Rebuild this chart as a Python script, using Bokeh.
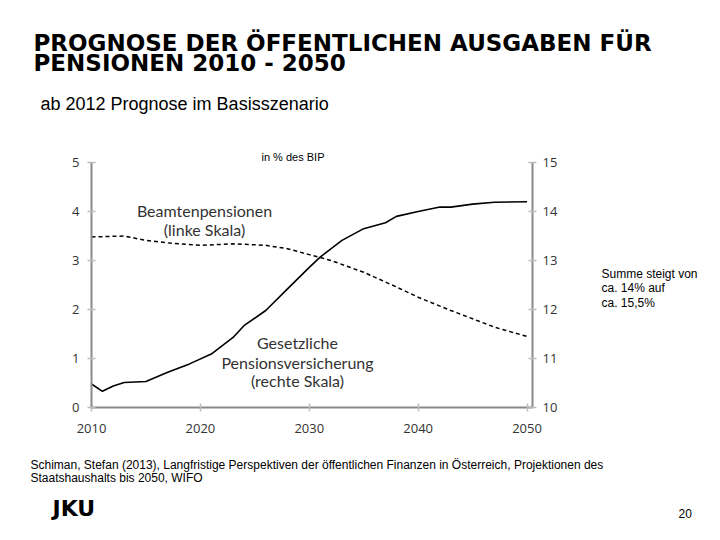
from bokeh.plotting import figure
from bokeh.models import Range1d, LinearAxis, Label, FixedTicker, Title
from bokeh.layouts import column, row
from bokeh.embed import file_html
from bokeh.resources import INLINE

# --- data ---
beamte_years = [2010, 2013, 2015, 2017, 2020, 2023, 2026, 2028, 2030, 2032,
                2035, 2038, 2040, 2043, 2045, 2047, 2050]
beamte_values = [3.48, 3.50, 3.41, 3.36, 3.31, 3.34, 3.31, 3.24, 3.12, 3.00,
                 2.76, 2.46, 2.25, 1.98, 1.81, 1.64, 1.45]

gesetz_years = [2010, 2011, 2012, 2013, 2015, 2017, 2019, 2021, 2023, 2024,
                2026, 2028, 2030, 2031, 2033, 2035, 2037, 2038, 2040, 2042,
                2043, 2045, 2047, 2050]
gesetz_values = [10.48, 10.33, 10.44, 10.51, 10.53, 10.72, 10.89, 11.09, 11.43,
                 11.67, 11.98, 12.42, 12.86, 13.07, 13.41, 13.65, 13.77, 13.90,
                 14.00, 14.09, 14.09, 14.15, 14.19, 14.20]

x_ticks = [2010, 2020, 2030, 2040, 2050]
left_ticks = [0, 1, 2, 3, 4, 5]
right_ticks = [10, 11, 12, 13, 14, 15]

W, H = 704, 524
TOP_H = 136
BL, BT = 91, 26
FRAME_W, FRAME_H = 441, 245
BR = 36
MAIN_W = BL + FRAME_W + BR
MAIN_H = 312
BB = MAIN_H - BT - FRAME_H
SIDE_W = W - MAIN_W
BOT_Y = TOP_H + MAIN_H
BOT_H = H - BOT_Y
FRAME_TOP = TOP_H + BT
FRAME_BOTTOM = FRAME_TOP + FRAME_H   # page y of the frame bottom

SHIFT = 0.4   # rendered baseline sits ~0.4em below the anchor; compensate


def text_panel(w, h, x0, y0, y1, bt=0, bb=0):
    # ranges are page pixel coordinates (y downwards)
    f = figure(width=w, height=h, output_backend="svg", toolbar_location=None,
               title=None,
               x_range=Range1d(x0, x0 + w), y_range=Range1d(y1, y0),
               x_axis_type=None, y_axis_type=None,
               min_border=0, min_border_left=0, min_border_right=0,
               min_border_top=bt, min_border_bottom=bb)
    f.outline_line_color = None
    f.xgrid.visible = False
    f.ygrid.visible = False
    f.border_fill_color = "white"
    f.background_fill_color = "white"
    return f


def put(f, x, y, s, size, font="Liberation Sans", style="normal",
        align="left", color="black"):
    f.add_layout(Label(x=x, y=y - SHIFT * size, text=s, text_font=font,
                       text_font_size=f"{size}px",
                       text_font_style=style, text_align=align,
                       text_baseline="alphabetic", text_color=color))


# ---------- top: titles ----------
ptop = text_panel(W, TOP_H, 0, 0, TOP_H)
put(ptop, 33, 52, "PROGNOSE DER ÖFFENTLICHEN AUSGABEN FÜR", 23,
    font="DejaVu Sans", style="bold")
put(ptop, 33, 72, "PENSIONEN 2010 - 2050", 23, font="DejaVu Sans",
    style="bold")
put(ptop, 40, 111, "ab 2012 Prognose im Basisszenario", 18)

# ---------- main chart ----------
p = figure(width=MAIN_W, height=MAIN_H, output_backend="svg",
           toolbar_location=None, title=None,
           x_range=Range1d(2010, 2050.5), y_range=Range1d(0, 5),
           min_border_left=BL, min_border_right=BR,
           min_border_top=BT, min_border_bottom=BB)
p.extra_y_ranges = {"right": Range1d(10, 15)}
p.outline_line_color = None
p.xgrid.visible = False
p.ygrid.visible = False
p.background_fill_color = "white"
p.border_fill_color = "white"

p.add_layout(Title(text="in % des BIP", align="left", offset=170,
                   text_font="Liberation Sans", text_font_size="11px",
                   text_font_style="normal", text_color="black",
                   standoff=0, vertical_align="bottom"), "above")

AX = "#8a8a8a"
TK = "#bdbdbd"
TICKFONT = "Open Sans"


def style_axis(ax):
    ax.axis_line_color = AX
    ax.axis_line_width = 2
    ax.major_tick_line_color = TK
    ax.major_tick_line_width = 1.5
    ax.major_tick_in = 4
    ax.major_tick_out = 4
    ax.minor_tick_line_color = None
    ax.major_label_text_font = TICKFONT
    ax.major_label_text_font_size = "13px"
    ax.major_label_text_color = "#333333"


style_axis(p.xaxis[0])
p.xaxis[0].ticker = FixedTicker(ticks=x_ticks)
p.xaxis[0].major_label_standoff = 12
style_axis(p.yaxis[0])
p.yaxis[0].ticker = FixedTicker(ticks=left_ticks)
p.yaxis[0].major_label_standoff = 8

raxis = LinearAxis(y_range_name="right", ticker=FixedTicker(ticks=right_ticks))
style_axis(raxis)
raxis.major_label_standoff = 6
p.add_layout(raxis, "right")

p.line(beamte_years, beamte_values, line_color="black", line_width=1.5,
       line_dash="4 3")
p.line(gesetz_years, gesetz_values, line_color="black", line_width=1.6,
       y_range_name="right")


def inner(x, y_top, s, size, font="Lato", color="#333333"):
    # screen units are measured from the frame's bottom-left corner
    p.add_layout(Label(x=x - BL, y=FRAME_BOTTOM - (y_top - SHIFT * size),
                       x_units="screen", y_units="screen",
                       text=s, text_font=font, text_font_size=f"{size}px",
                       text_align="center", text_baseline="alphabetic",
                       text_color=color))


inner(204, 216, "Beamtenpensionen", 16)
inner(204, 235, "(linke Skala)", 16)
inner(297, 348, "Gesetzliche", 16)
inner(297, 368, "Pensionsversicherung", 16)
inner(297, 386, "(rechte Skala)", 16)

# ---------- side note (frame aligned with the chart frame) ----------
pside = text_panel(SIDE_W, MAIN_H, MAIN_W, FRAME_TOP, FRAME_BOTTOM,
                   bt=BT, bb=BB)
put(pside, 601, 278, "Summe steigt von", 12)
put(pside, 601, 292, "ca. 14% auf", 12)
put(pside, 601, 307, "ca. 15,5%", 12)

# ---------- bottom: source and footer ----------
pbot = text_panel(W, BOT_H, 0, BOT_Y, H)
put(pbot, 30, 469, "Schiman, Stefan (2013), Langfristige Perspektiven "
    "der öffentlichen Finanzen in Österreich, Projektionen des", 12)
put(pbot, 30, 482, "Staatshaushalts bis 2050, WIFO", 12)
put(pbot, 52, 517, "JKU", 22, font="DejaVu Sans", style="bold")
put(pbot, 678, 518, "20", 12)

layout = column(ptop, row(p, pside), pbot)
open("out.html", "w").write(file_html(layout, INLINE))
